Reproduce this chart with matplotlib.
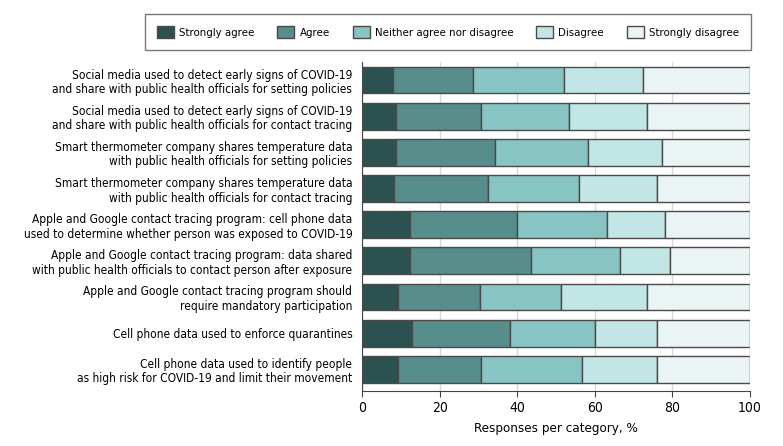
import numpy as np
import matplotlib.pyplot as plt
from matplotlib import font_manager

# Categorías (de arriba hacia abajo)
labels = [
    'Social media used to detect early signs of COVID-19\nand share with public health officials for setting policies',
    'Social media used to detect early signs of COVID-19\nand share with public health officials for contact tracing',
    'Smart thermometer company shares temperature data\nwith public health officials for setting policies',
    'Smart thermometer company shares temperature data\nwith public health officials for contact tracing',
    'Apple and Google contact tracing program: cell phone data\nused to determine whether person was exposed to COVID-19',
    'Apple and Google contact tracing program: data shared\nwith public health officials to contact person after exposure',
    'Apple and Google contact tracing program should\nrequire mandatory participation',
    'Cell phone data used to enforce quarantines',
    'Cell phone data used to identify people\nas high risk for COVID-19 and limit their movement',
]

series_names = ['Strongly agree', 'Agree', 'Neither agree nor disagree',
                'Disagree', 'Strongly disagree']

# Porcentajes por categoría
strongly_agree = [8.1, 8.8, 8.8, 8.3, 12.3, 12.3, 9.4, 12.8, 9.2]
agree = [20.4, 21.8, 25.6, 24.3, 27.6, 31.2, 21.1, 25.3, 21.4]
neither = [23.5, 22.8, 23.8, 23.4, 23.3, 23.1, 20.9, 21.9, 26.2]
disagree = [20.5, 20.0, 19.0, 20.1, 15.0, 12.9, 22.1, 16.1, 19.3]
strongly_disagree = [27.5, 26.6, 22.8, 23.9, 21.8, 20.5, 26.5, 23.9, 23.9]

colors = ['#2b5150', '#578d8b', '#87c4c3', '#c1e6e5', '#eaf4f5']

# Buscar una fuente condensada si existe
condensed = [f for f in font_manager.fontManager.ttflist
             if isinstance(f.stretch, str)
             and f.stretch in ('condensed', 'semi-condensed', 'extra-condensed')]
if condensed:
    plt.rcParams['font.family'] = [condensed[0].name, 'DejaVu Sans']
    plt.rcParams['font.stretch'] = condensed[0].stretch
else:
    plt.rcParams['font.family'] = ['Lato', 'DejaVu Sans']

fig = plt.figure(figsize=(7.83, 4.46), dpi=100)
ax = fig.add_axes([362 / 783, 1 - 391 / 446, 388 / 783, 329 / 446])

data = [strongly_agree, agree, neither, disagree, strongly_disagree]
y = np.arange(len(labels))
left = np.zeros(len(labels))
handles = []
for vals, name, c in zip(data, series_names, colors):
    vals = np.array(vals)
    b = ax.barh(y, vals, left=left, height=0.74, color=c,
                edgecolor='#4a4a4a', linewidth=1.0, label=name, zorder=3)
    handles.append(b)
    left += vals

ax.set_xlim(0, 100)
ax.set_ylim(8.6, -0.5)
ax.set_yticks(y)
ax.set_yticklabels(labels, fontsize=8.6, linespacing=1.15)
ax.tick_params(axis='y', length=0, pad=7)
ax.set_xticks([0, 20, 40, 60, 80, 100])
ax.tick_params(axis='x', labelsize=10, length=4, color='#444444')
ax.set_xlabel('Responses per category, %', fontsize=9.6, labelpad=5)
ax.grid(axis='x', color='#d9d9d9', linewidth=1, zorder=0)
for s in ['top', 'right']:
    ax.spines[s].set_visible(False)
ax.spines['left'].set_color('#444444')
ax.spines['bottom'].set_color('#444444')

leg = fig.legend(handles=handles, loc='center', ncol=5,
                 bbox_to_anchor=(448 / 783, 1 - 32 / 446), fontsize=8.2,
                 frameon=True, fancybox=False, edgecolor='#555555',
                 handlelength=1.5, handleheight=1.2, columnspacing=2.0,
                 handletextpad=0.45, borderpad=1.05)
leg.get_frame().set_linewidth(1.0)

plt.savefig('out.png', dpi=100)
